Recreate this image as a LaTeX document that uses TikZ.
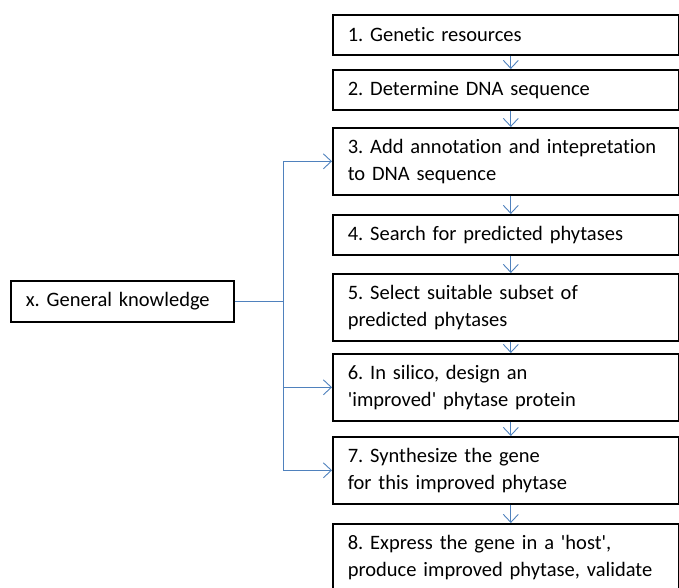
\documentclass[tikz,border=0pt]{standalone}
\usepackage{fontspec}
\setmainfont{Carlito}[Ligatures=NoCommon]
\usepackage{tikz}
\usetikzlibrary{arrows.meta, positioning}
\definecolor{linkblue}{RGB}{79,129,189}
\newcommand{\sq}{\textquotesingle}
\frenchspacing

\begin{document}
\begin{tikzpicture}[
        x=1pt, y=-1pt,
        stage/.style={rectangle, draw=black, line width=1.6pt, anchor=north west, align=left, text width=316pt, inner xsep=15pt, inner ysep=0pt, font=\fontsize{20.5}{26.5}\selectfont},
        single/.style={stage, minimum height=40pt},
        double/.style={stage, minimum height=67pt},
        arrow/.style={-{Straight Barb[length=8pt, width=15pt]}, draw=linkblue, line width=0.9pt}
    ]
        \useasboundingbox (0,0) rectangle (679,587);

        \node[single] (genres) at (332,14) {1. Genetic resources};
        \node[single] (dnaseq) at (332,69) {2. Determine DNA sequence};
        \node[double] (annot) at (332,127) {3. Add annotation and intepretation\\to DNA sequence};
        \node[single] (search) at (332,214) {4. Search for predicted phytases};
        \node[double] (subset) at (332,273) {5. Select suitable subset of\\predicted phytases};
        \node[double] (design) at (332,353) {6. In silico, design an\\\sq improved\sq{} phytase protein};
        \node[double] (synth) at (332,436) {7. Synthesize the gene\\for this improved phytase};
        \node[double] (express) at (332,523) {8. Express the gene in a \sq host\sq,\\produce improved phytase, validate};

        \node[stage, text width=193pt, minimum height=41pt, anchor=west] (general) at (10,301.5) {x. General knowledge};
        \coordinate (split) at (283,301.5);

        \draw[arrow] ([xshift=5pt]genres.south) -- ([xshift=5pt]dnaseq.north);
        \draw[arrow] ([xshift=5pt]dnaseq.south) -- ([xshift=5pt]annot.north);
        \draw[arrow] ([xshift=5pt]annot.south) -- ([xshift=5pt]search.north);
        \draw[arrow] ([xshift=5pt]search.south) -- ([xshift=5pt]subset.north);
        \draw[arrow] ([xshift=5pt]subset.south) -- ([xshift=5pt]design.north);
        \draw[arrow] ([xshift=5pt]design.south) -- ([xshift=5pt]synth.north);
        \draw[arrow] ([xshift=5pt]synth.south) -- ([xshift=5pt]express.north);

        \draw[arrow] (general.east) -- (split) |- (annot.west);
        \draw[arrow] (split) |- (design.west);
        \draw[arrow] (split) |- (synth.west);
    \end{tikzpicture}
\end{document}
